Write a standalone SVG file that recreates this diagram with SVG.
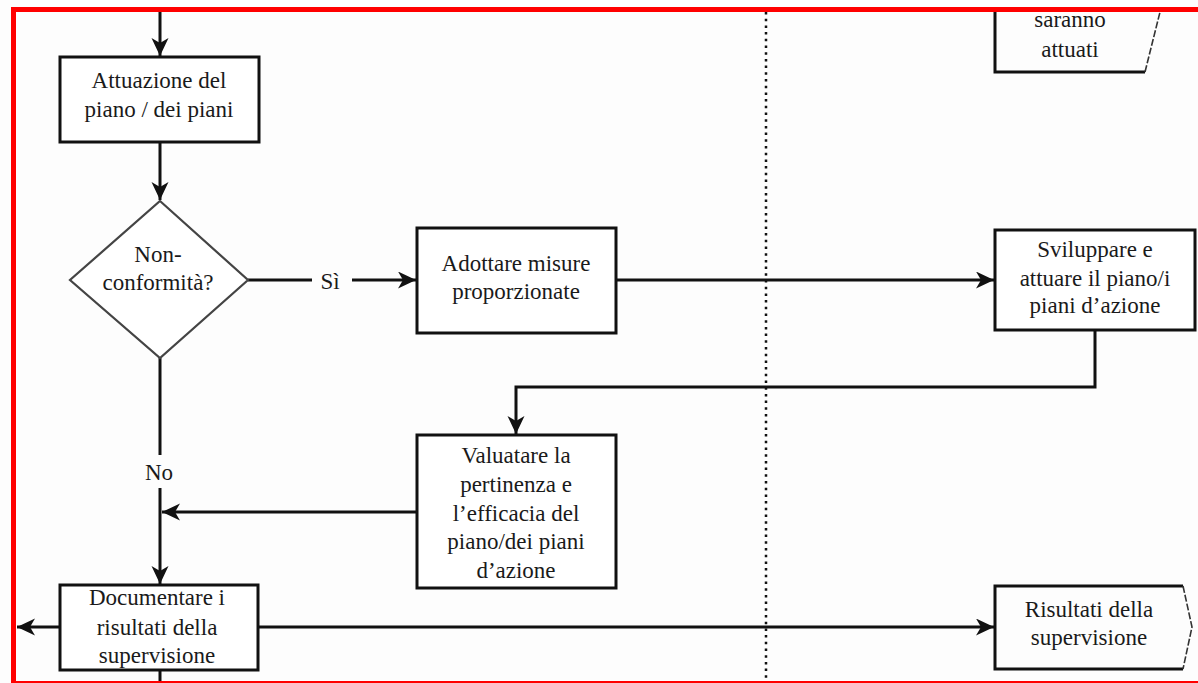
<svg xmlns="http://www.w3.org/2000/svg" width="1198" height="683" viewBox="0 0 1198 683">
<defs>
<style>
.box{fill:#fff;stroke:#111;stroke-width:3}
.dia{fill:#fff;stroke:#444;stroke-width:2.2}
.ln{fill:none;stroke:#111;stroke-width:3}
.soft{fill:none;stroke:#333;stroke-width:1.6;stroke-dasharray:7 2}
.t{font-family:"Liberation Serif",serif;font-size:23px;fill:#1a1a1a;text-anchor:middle}
</style>
<marker id="ah" markerUnits="userSpaceOnUse" markerWidth="20" markerHeight="18" refX="18" refY="8.5" orient="auto">
<path d="M0,0 L18,8.5 L0,17 L5,8.5 Z" fill="#111"/>
</marker>
</defs>
<rect width="1198" height="683" fill="#fdfdfd"/>
<line x1="766" y1="12" x2="766" y2="681" stroke="#111" stroke-width="2.5" stroke-dasharray="2.5 4.2"/>
<g id="connectors">
<line class="ln" x1="160" y1="12" x2="160" y2="56" marker-end="url(#ah)"/>
<line class="ln" x1="160" y1="143" x2="160" y2="200" marker-end="url(#ah)"/>
<line class="ln" x1="248" y1="280" x2="312" y2="280"/>
<line class="ln" x1="352" y1="280" x2="416" y2="280" marker-end="url(#ah)"/>
<line class="ln" x1="617" y1="280" x2="994" y2="280" marker-end="url(#ah)"/>
<polyline class="ln" points="1095,331 1095,387 516,387 516,434" marker-end="url(#ah)"/>
<line class="ln" x1="160" y1="358" x2="160" y2="455"/>
<line class="ln" x1="160" y1="488" x2="160" y2="584" marker-end="url(#ah)"/>
<line class="ln" x1="416" y1="512" x2="162" y2="512" marker-end="url(#ah)"/>
<line class="ln" x1="59" y1="627" x2="17" y2="627" marker-end="url(#ah)"/>
<line class="ln" x1="259" y1="627" x2="994" y2="627" marker-end="url(#ah)"/>
<line class="ln" x1="160" y1="671" x2="160" y2="683"/>
<text class="t" x="330" y="289">Sì</text>
<text class="t" x="159" y="480">No</text>
</g>
<g id="n-saranno">
<path class="ln" d="M995,12 V72 H1145"/>
<path class="soft" d="M1145,72 L1160,12"/>
<text class="t" x="1070" y="27">saranno</text>
<text class="t" x="1070" y="57">attuati</text>
</g>
<g id="n-attuazione">
<rect class="box" x="60" y="57" width="199" height="85"/>
<text class="t" x="159" y="88">Attuazione del</text>
<text class="t" x="159" y="117">piano / dei piani</text>
</g>
<g id="n-nonconf">
<polygon class="dia" points="160,201 248,280 160,358 70,280"/>
<text class="t" x="158" y="262">Non-</text>
<text class="t" x="158" y="290">conformità?</text>
</g>
<g id="n-adottare">
<rect class="box" x="417" y="228" width="199" height="105"/>
<text class="t" x="516" y="271">Adottare misure</text>
<text class="t" x="516" y="299">proporzionate</text>
</g>
<g id="n-sviluppare">
<rect class="box" x="995" y="230" width="200" height="100"/>
<text class="t" x="1095" y="257">Sviluppare e</text>
<text class="t" x="1095" y="286">attuare il piano/i</text>
<text class="t" x="1095" y="313">piani d’azione</text>
</g>
<g id="n-valutare">
<rect class="box" x="417" y="435" width="199" height="153"/>
<text class="t" x="516" y="463">Valuatare la</text>
<text class="t" x="516" y="492">pertinenza e</text>
<text class="t" x="516" y="521">l’efficacia del</text>
<text class="t" x="516" y="549">piano/dei piani</text>
<text class="t" x="516" y="578">d’azione</text>
</g>
<g id="n-documentare">
<rect class="box" x="60" y="585" width="198" height="85"/>
<text class="t" x="157" y="605">Documentare i</text>
<text class="t" x="157" y="635">risultati della</text>
<text class="t" x="157" y="663">supervisione</text>
</g>
<g id="n-risultati">
<path class="ln" d="M1183,586 H995 V669 H1183"/>
<path class="soft" d="M1183,586 L1192,627 L1183,669"/>
<text class="t" x="1089" y="617">Risultati della</text>
<text class="t" x="1089" y="645">supervisione</text>
</g>
<rect x="13.5" y="9.5" width="1190" height="674" fill="none" stroke="#f00" stroke-width="5"/>
</svg>
